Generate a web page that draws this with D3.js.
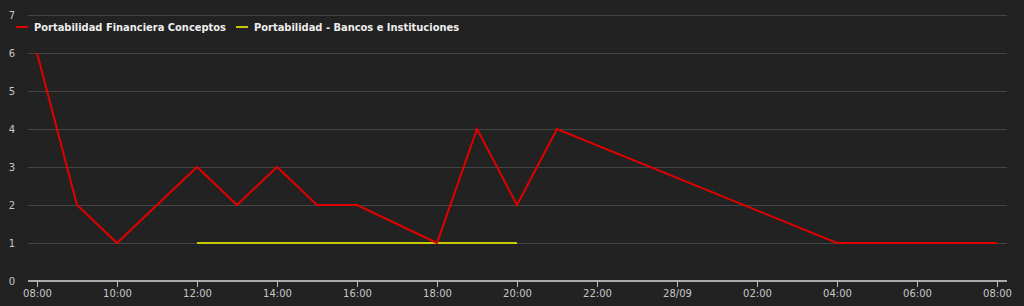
<!DOCTYPE html>
<html>
<head>
<meta charset="utf-8">
<script src="https://cdn.jsdelivr.net/npm/d3@7"></script>
<style>
  html, body { margin: 0; padding: 0; background: #222222; }
  svg { display: block; font-family: "DejaVu Sans", sans-serif; }
</style>
</head>
<body>
<script>
const width = 1024;
const height = 306;

// hours from 08:00 on 27/09
const conceptosHours = [0, 1, 2, 4, 5, 6, 7, 8, 10, 11, 12, 13, 20, 24];
const conceptosValues = [6, 2, 1, 3, 2, 3, 2, 2, 1, 4, 2, 4, 1, 1];
const bancosHours = [4, 12];
const bancosValues = [1, 1];
const seriesNames = ['Portabilidad Financiera Conceptos', 'Portabilidad - Bancos e Instituciones'];
const seriesColors = ['#e00000', '#c8c800'];
const yTicks = [0, 1, 2, 3, 4, 5, 6, 7];
const xTickHours = [0, 2, 4, 6, 8, 10, 12, 14, 16, 18, 20, 22, 24];

const start = new Date(2020, 8, 27, 8, 0);
const toDate = h => new Date(start.getTime() + h * 3600 * 1000);

const x = d3.scaleTime()
  .domain([toDate(-9 / 40), toDate(24 + 10 / 40)])
  .range([28, 1007]);

const y = d3.scaleLinear()
  .domain([0, 7])
  .range([281, 15]);

const svg = d3.select('body').append('svg')
  .attr('width', width)
  .attr('height', height);

// grid lines
svg.append('g')
  .selectAll('line')
  .data(yTicks.filter(d => d > 0))
  .enter().append('line')
    .attr('x1', 28)
    .attr('x2', 1007)
    .attr('y1', d => Math.round(y(d)) + 0.5)
    .attr('y2', d => Math.round(y(d)) + 0.5)
    .attr('stroke', '#444')
    .attr('stroke-width', 1);

// y labels
svg.append('g')
  .selectAll('text')
  .data(yTicks)
  .enter().append('text')
    .attr('x', 12)
    .attr('y', d => y(d))
    .attr('dy', '0.35em')
    .attr('text-anchor', 'middle')
    .attr('fill', '#c8c8c8')
    .style('font-size', '10px')
    .text(d => d);

// x axis
const fmt = d => (d.getHours() === 0 ? d3.timeFormat('%d/%m')(d) : d3.timeFormat('%H:%M')(d));
const xAxis = svg.append('g')
  .attr('transform', 'translate(0,281)')
  .call(d3.axisBottom(x)
    .tickValues(xTickHours.map(toDate))
    .tickFormat(fmt)
    .tickSize(6)
    .tickPadding(3));

xAxis.select('.domain')
  .attr('stroke', '#aaa')
  .attr('stroke-width', 2)
  .attr('d', 'M28,0H1007');
xAxis.selectAll('.tick line').attr('stroke', '#bbb');
xAxis.selectAll('.tick text')
  .attr('fill', '#c8c8c8')
  .style('font-size', '10px')
  .style('font-family', '"DejaVu Sans", sans-serif');

const line = d3.line()
  .x(d => x(toDate(d[0])))
  .y(d => y(d[1]));

svg.append('path')
  .datum(d3.zip(bancosHours, bancosValues))
  .attr('fill', 'none')
  .attr('stroke', seriesColors[1])
  .attr('stroke-width', 2)
  .attr('d', line);

svg.append('path')
  .datum(d3.zip(conceptosHours, conceptosValues))
  .attr('fill', 'none')
  .attr('stroke', seriesColors[0])
  .attr('stroke-width', 2)
  .attr('d', line);

// legend
const legendX = [16, 236];
const legend = svg.append('g')
  .selectAll('g')
  .data(seriesNames)
  .enter().append('g')
    .attr('transform', (d, i) => `translate(${legendX[i]},27)`);

legend.append('line')
  .attr('x1', 0)
  .attr('x2', 12)
  .attr('stroke', (d, i) => seriesColors[i])
  .attr('stroke-width', 2);

legend.append('text')
  .attr('x', 18)
  .attr('dy', '0.35em')
  .attr('fill', '#eee')
  .style('font-family', '"DejaVu Sans Condensed", "DejaVu Sans", sans-serif')
  .style('font-stretch', 'condensed')
  .style('font-size', '11px')
  .style('font-weight', 'bold')
  .text(d => d);
</script>
</body>
</html>
